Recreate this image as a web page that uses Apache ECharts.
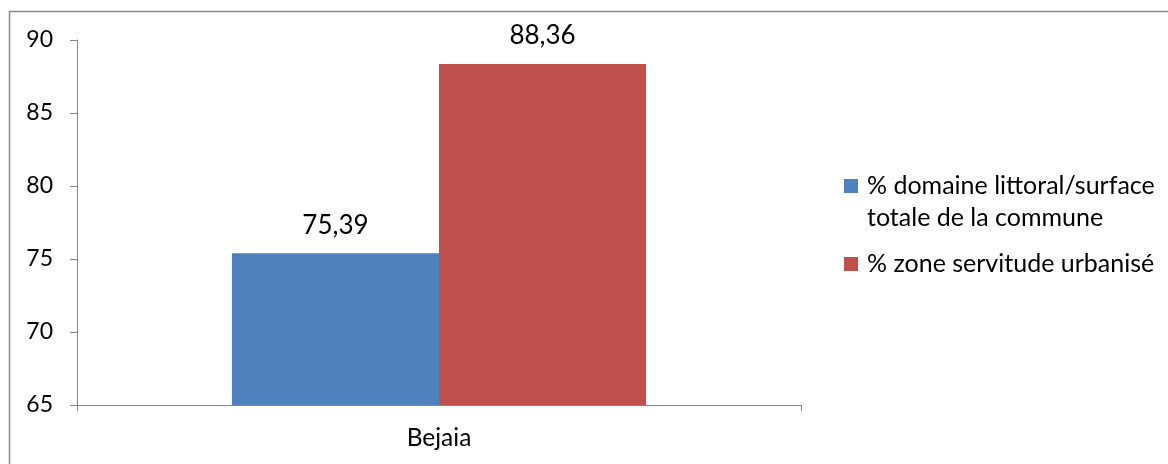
<!DOCTYPE html>
<html>
<head>
<meta charset="utf-8">
<script src="https://cdn.jsdelivr.net/npm/echarts@6/dist/echarts.min.js"></script>
<style>
html,body{margin:0;padding:0;background:#fff;}
#chart{width:1168px;height:464px;}
</style>
</head>
<body>
<div id="chart"></div>
<script>
const categories = ['Bejaia'];
const seriesNames = ['% domaine littoral/surface\ntotale de la commune', '% zone servitude urbanisé'];
const domaineLittoral = [75.39];
const zoneServitude = [88.36];
const seriesColors = ['#4F81BD', '#C0504D'];
const yMin = 65, yMax = 90, yStep = 5;

const FONT = 'Lato';
const chart = echarts.init(document.getElementById('chart'), null, {renderer: 'canvas'});
const labelFmt = p => p.value.toFixed(2).replace('.', ',');

chart.setOption({
  animation: false,
  backgroundColor: '#ffffff',
  textStyle: {fontFamily: FONT, color: '#000'},
  graphic: [{
    type: 'rect', silent: true, z: -1,
    shape: {x: 9.5, y: 11.5, width: 1250, height: 520},
    style: {fill: 'none', stroke: '#8a8a8a', lineWidth: 1.5}
  }],
  grid: {left: 77, right: 367, top: 40, bottom: 59, containLabel: false},
  legend: {
    orient: 'vertical', left: 844, top: 138, padding: 0, itemGap: 14,
    itemWidth: 14, itemHeight: 14, icon: 'rect',
    // a blank first line keeps the icon level with the first text line
    formatter: name => name.indexOf('\n') >= 0 ? ' \n' + name : name,
    textStyle: {fontFamily: FONT, fontSize: 25, color: '#000', lineHeight: 32, padding: [0, 0, 0, 4]},
    data: seriesNames
  },
  xAxis: {
    type: 'category', data: categories,
    axisLine: {show: true, lineStyle: {color: '#868686', width: 1}},
    axisTick: {show: true, length: 6, lineStyle: {color: '#868686'}},
    axisLabel: {fontFamily: FONT, fontSize: 24.5, color: '#000', margin: 21}
  },
  yAxis: {
    type: 'value', min: yMin, max: yMax, interval: yStep,
    axisLine: {show: true, lineStyle: {color: '#868686', width: 1}},
    axisTick: {show: true, inside: false, length: 7, lineStyle: {color: '#868686'}},
    splitLine: {show: false},
    axisLabel: {fontFamily: FONT, fontSize: 23, color: '#000', margin: 24}
  },
  series: [
    {
      name: seriesNames[0], type: 'bar', data: domaineLittoral,
      itemStyle: {color: seriesColors[0]},
      barGap: '0%', barCategoryGap: '42.8%',
      label: {show: true, position: 'top', distance: 15, fontFamily: FONT, fontSize: 26, color: '#000', formatter: labelFmt}
    },
    {
      name: seriesNames[1], type: 'bar', data: zoneServitude,
      itemStyle: {color: seriesColors[1]},
      barGap: '0%', barCategoryGap: '42.8%',
      label: {show: true, position: 'top', distance: 15, fontFamily: FONT, fontSize: 26, color: '#000', formatter: labelFmt}
    }
  ]
});
</script>
</body>
</html>
